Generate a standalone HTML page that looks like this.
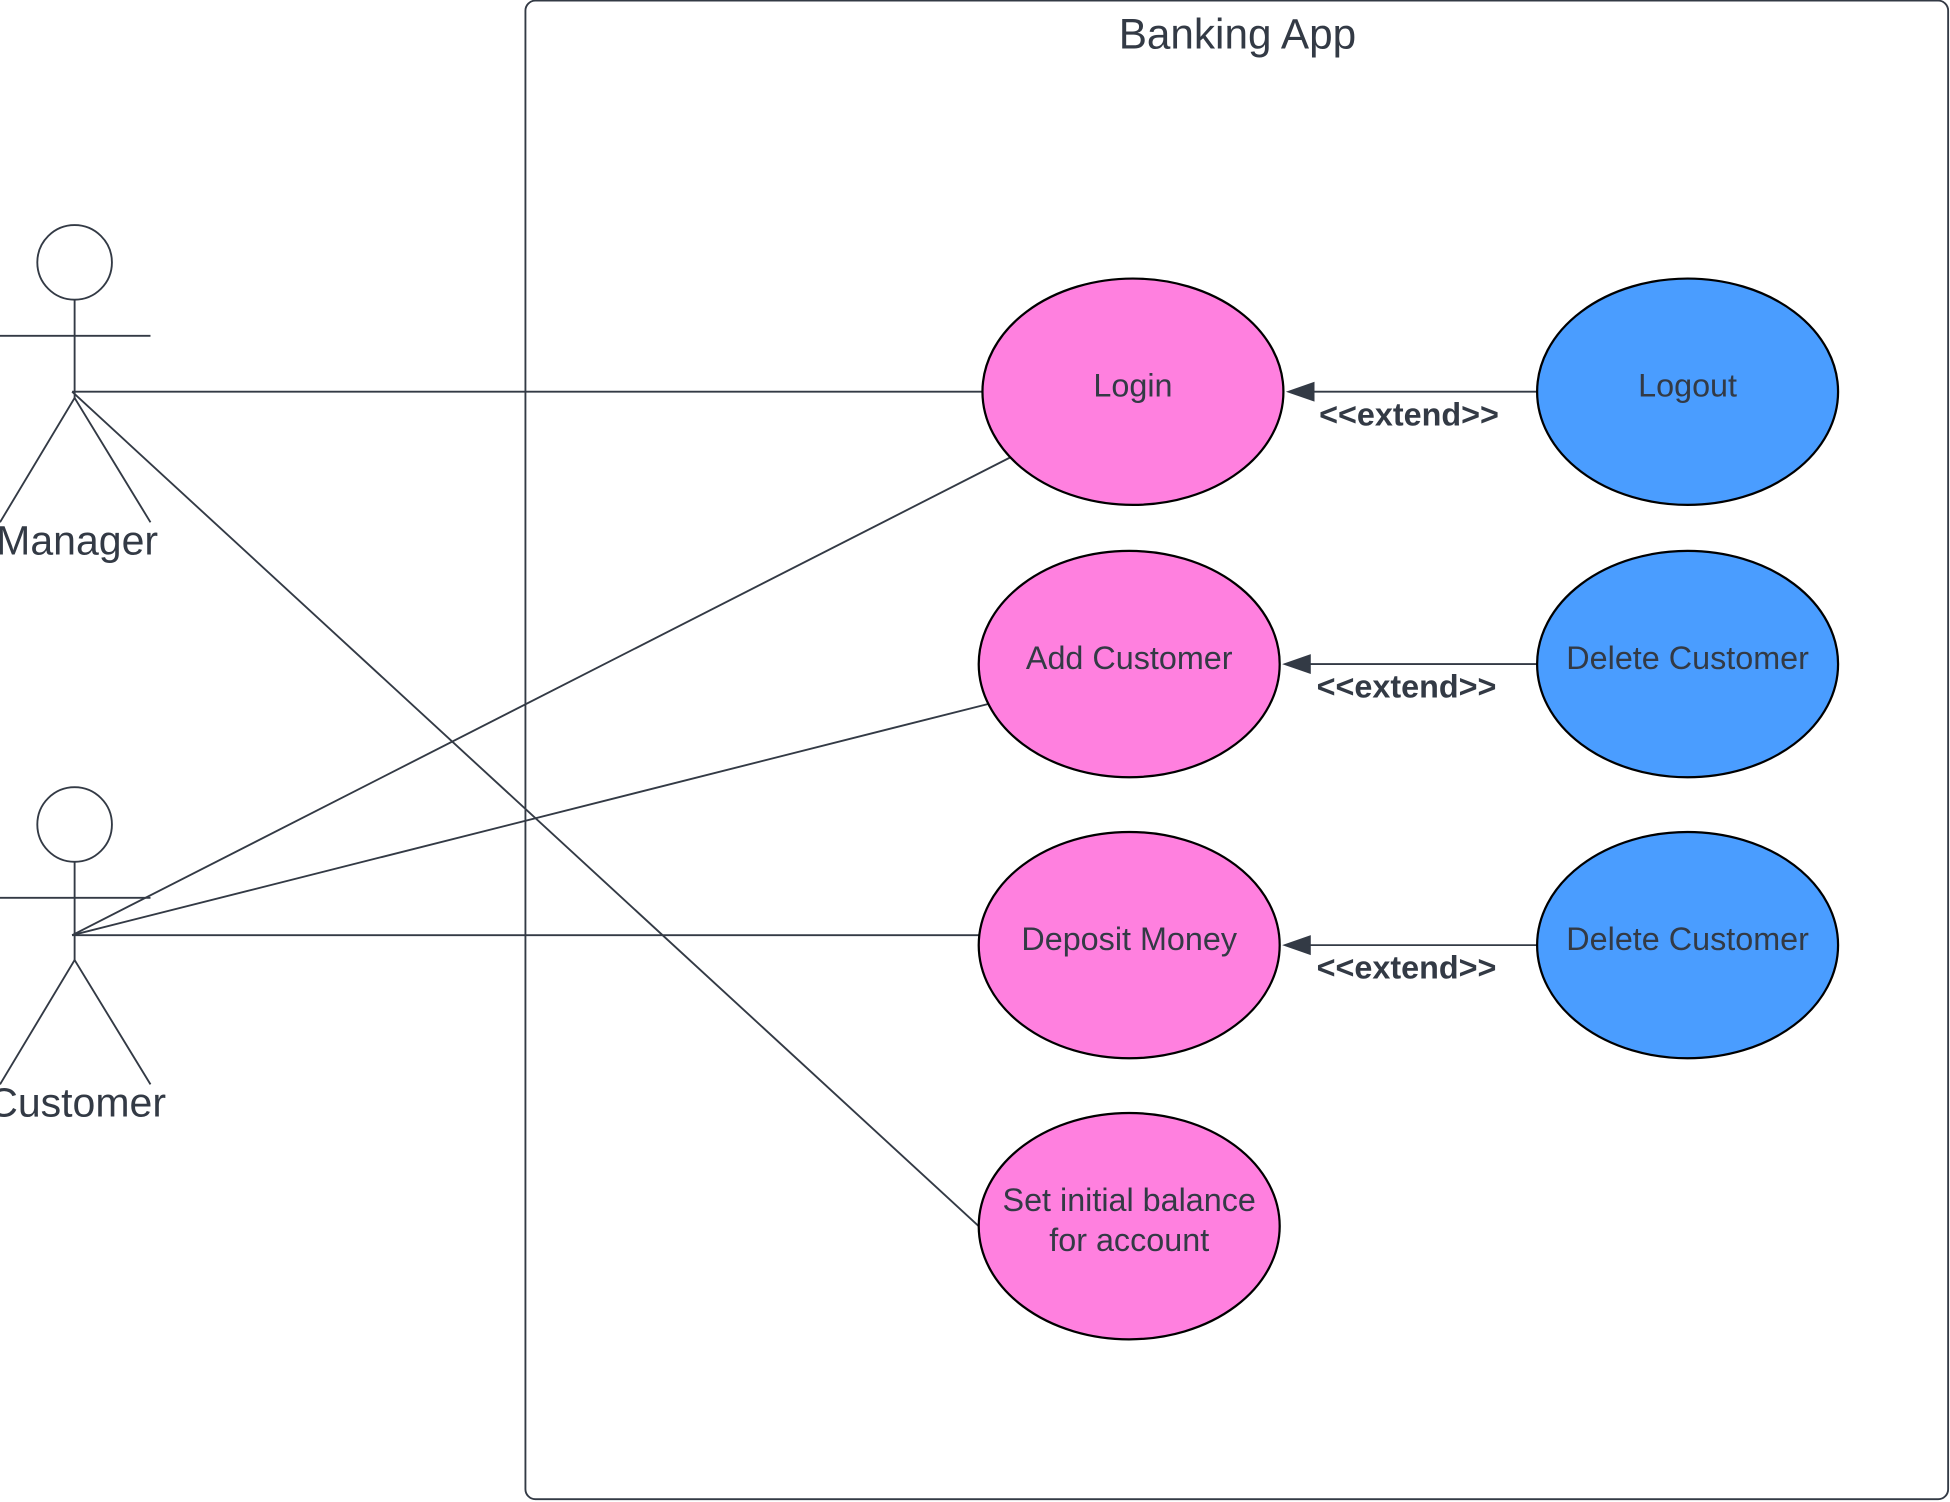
<!DOCTYPE html>
<html><head><meta charset="utf-8"><style>
html,body{margin:0;padding:0;background:#fff;width:1950px;height:1502px;overflow:hidden}
svg{display:block}
text{font-family:"Liberation Sans",sans-serif;fill:#333a45}
</style></head><body>
<svg width="1950" height="1502" viewBox="0 0 1568 1207.8" preserveAspectRatio="none">
<rect x="422.5" y="0.5" width="1144" height="1205" rx="8" fill="#fff" stroke="#333a45" stroke-width="1.5"/>
<text x="995" y="39" font-size="34" text-anchor="middle">Banking App</text>
<g stroke="#333a45" stroke-width="1.5" fill="none">
<line x1="58" y1="315" x2="790" y2="315"/>
<line x1="58" y1="315" x2="787" y2="986"/>
<line x1="58" y1="752" x2="812" y2="368"/>
<line x1="58" y1="752" x2="795" y2="566"/>
<line x1="58" y1="752" x2="787" y2="752"/>
<line x1="1236" y1="315" x2="1056" y2="315"/>
<line x1="1236" y1="534" x2="1053" y2="534"/>
<line x1="1236" y1="760" x2="1053" y2="760"/>
</g>
<path d="M1034,315 L1057,307 L1057,323 Z" fill="#333a45"/>
<path d="M1031,534 L1054,526 L1054,542 Z" fill="#333a45"/>
<path d="M1031,760 L1054,752 L1054,768 Z" fill="#333a45"/>
<g font-size="26" font-weight="bold" text-anchor="middle">
<text x="1133" y="342">&lt;&lt;extend&gt;&gt;</text>
<text x="1131" y="561">&lt;&lt;extend&gt;&gt;</text>
<text x="1131" y="787">&lt;&lt;extend&gt;&gt;</text>
</g>
<g stroke="#000" stroke-width="1.8">
<ellipse cx="911" cy="315" rx="121" ry="91" fill="#ff80df"/>
<ellipse cx="908" cy="534" rx="121" ry="91" fill="#ff80df"/>
<ellipse cx="908" cy="760" rx="121" ry="91" fill="#ff80df"/>
<ellipse cx="908" cy="986" rx="121" ry="91" fill="#ff80df"/>
<ellipse cx="1357" cy="315" rx="121" ry="91" fill="#4a9dff"/>
<ellipse cx="1357" cy="534" rx="121" ry="91" fill="#4a9dff"/>
<ellipse cx="1357" cy="760" rx="121" ry="91" fill="#4a9dff"/>
</g>
<g font-size="26" text-anchor="middle">
<text x="911" y="319">Login</text>
<text x="908" y="538">Add Customer</text>
<text x="908" y="764">Deposit Money</text>
<text x="908" y="974">Set initial balance</text>
<text x="908" y="1006">for account</text>
<text x="1357" y="319">Logout</text>
<text x="1357" y="538">Delete Customer</text>
<text x="1357" y="764">Delete Customer</text>
</g>
<g stroke="#333a45" stroke-width="1.5" fill="#fff">
<circle cx="60" cy="211" r="30"/>
<line x1="60" y1="241" x2="60" y2="320"/>
<line x1="0" y1="270" x2="121" y2="270"/>
<polyline points="0,420 60,320 121,420" fill="none"/>
<circle cx="60" cy="663" r="30"/>
<line x1="60" y1="693" x2="60" y2="772"/>
<line x1="0" y1="722" x2="121" y2="722"/>
<polyline points="0,872 60,772 121,872" fill="none"/>
</g>
<g font-size="33" text-anchor="middle">
<text x="62" y="446">Manager</text>
<text x="62" y="898">Customer</text>
</g>
</svg>
</body></html>
